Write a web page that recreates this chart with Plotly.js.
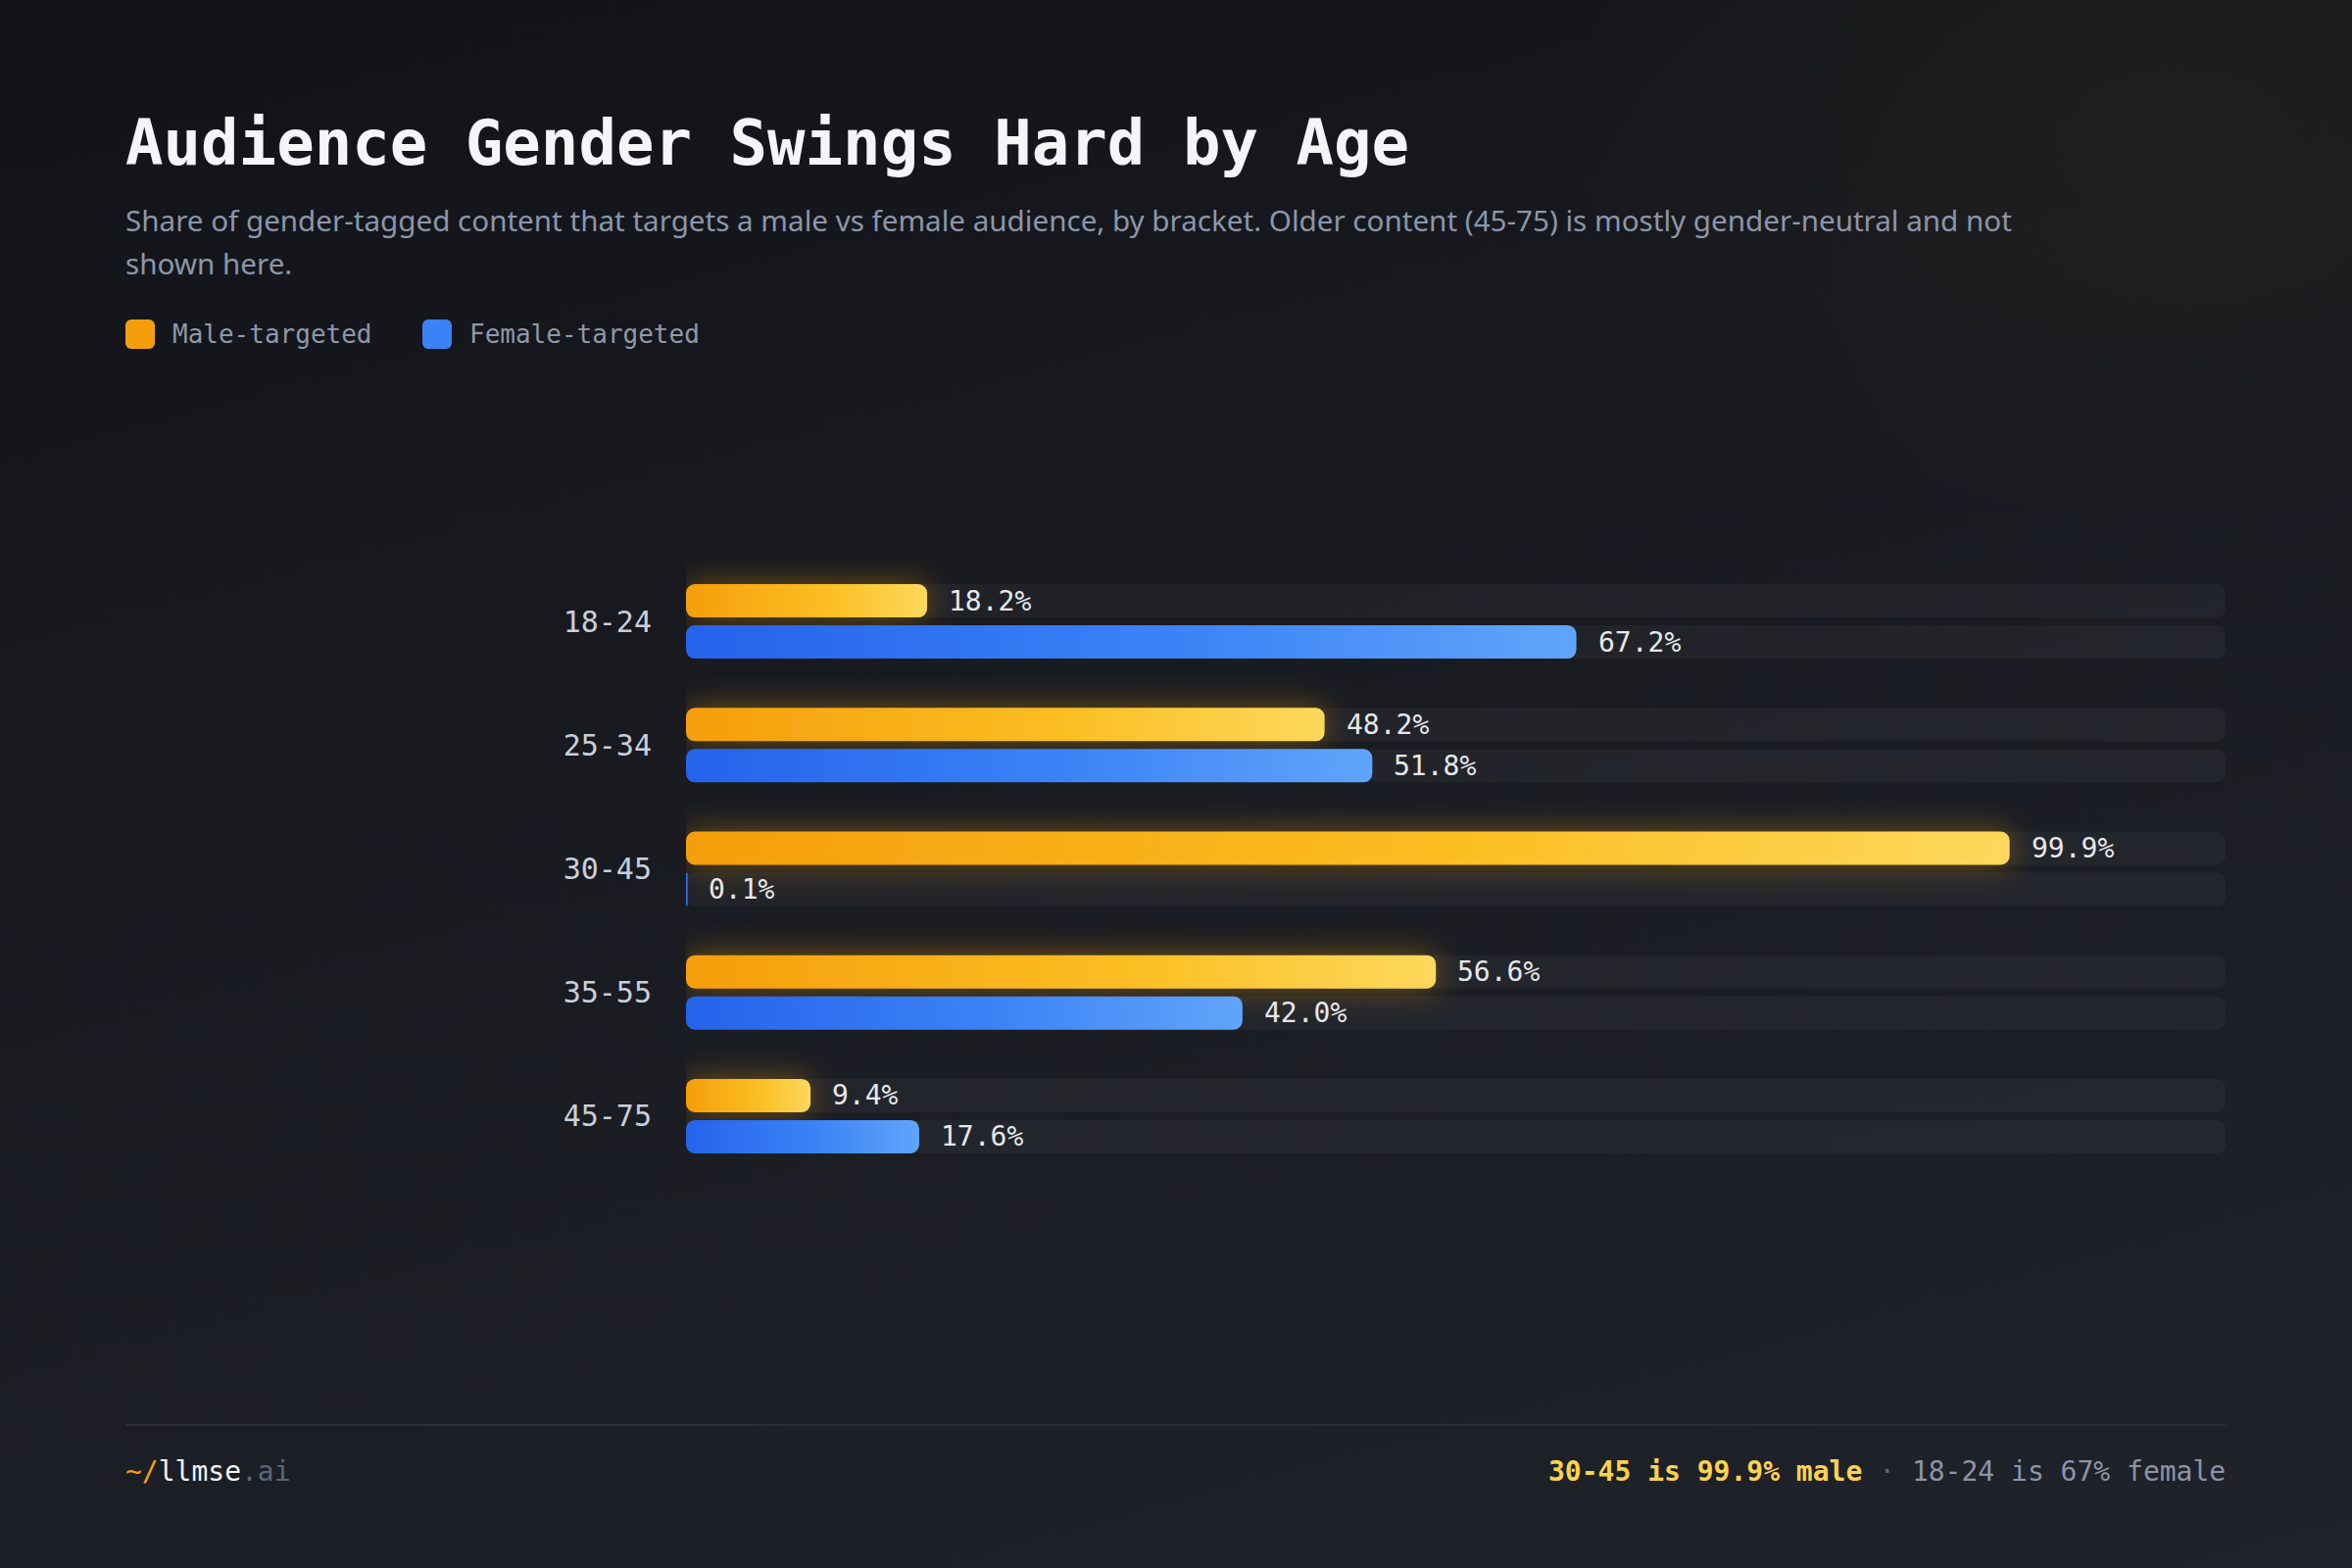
<!DOCTYPE html>
<html>
<head>
<meta charset="utf-8">
<script src="https://cdn.plot.ly/plotly-3.0.1.min.js"></script>
<style>
  html, body { margin: 0; padding: 0; width: 2400px; height: 1600px; overflow: hidden; }
  body {
    background:
      radial-gradient(ellipse 900px 600px at 92% 8%, rgba(245,158,11,0.045), rgba(245,158,11,0) 70%),
      linear-gradient(165deg, #111318 0%, #181a20 40%, #20232a 100%);
  }
  #chart { width: 2400px; height: 1600px; }
</style>
</head>
<body>
<div id="chart"></div>
<script>
// ---- data ----
const categories = ['18-24', '25-34', '30-45', '35-55', '45-75'];
const maleValues = [18.2, 48.2, 99.9, 56.6, 9.4];
const femaleValues = [67.2, 51.8, 0.1, 42.0, 17.6];
const seriesNames = ['Male-targeted', 'Female-targeted'];
const xMax = 116.2; // track length / axis max

// ---- style ----
const MONO = '"DejaVu Sans Mono", "Liberation Mono", monospace';
const SANS = '"Noto Sans", "Open Sans", sans-serif';
const AMBER = '#f59e0b';
const BLUE = '#3b82f6';
const TRACK = 'rgba(255,255,255,0.04)';
const barW = 0.2694;
const maleOffset = -0.3011;
const femaleOffset = 0.0317;

const trackVals = categories.map(() => xMax);

const data = [
  { type: 'bar', orientation: 'h', y: categories, x: trackVals, width: barW, offset: maleOffset,
    marker: { color: TRACK }, hoverinfo: 'skip', showlegend: false },
  { type: 'bar', orientation: 'h', y: categories, x: trackVals, width: barW, offset: femaleOffset,
    marker: { color: TRACK }, hoverinfo: 'skip', showlegend: false },
  { type: 'bar', orientation: 'h', name: seriesNames[0], y: categories, x: maleValues, width: barW, offset: maleOffset,
    marker: { color: AMBER }, showlegend: false },
  { type: 'bar', orientation: 'h', name: seriesNames[1], y: categories, x: femaleValues, width: barW, offset: femaleOffset,
    marker: { color: BLUE }, showlegend: false }
];

const W = 2400, H = 1600;
const px = v => v / W;
const py = v => 1 - v / H;

const annotations = [];
// value labels
categories.forEach((c, i) => {
  annotations.push({ xref: 'x', yref: 'y', x: maleValues[i], y: c, yshift: 21, xshift: 20,
    xanchor: 'left', yanchor: 'middle', showarrow: false, text: maleValues[i].toFixed(1) + '%',
    font: { family: MONO, size: 28, color: '#e6e8ec' } });
  annotations.push({ xref: 'x', yref: 'y', x: femaleValues[i], y: c, yshift: -21, xshift: 20,
    xanchor: 'left', yanchor: 'middle', showarrow: false, text: femaleValues[i].toFixed(1) + '%',
    font: { family: MONO, size: 28, color: '#e6e8ec' } });
});
// title & subtitle
annotations.push({ xref: 'paper', yref: 'paper', x: px(126), y: py(146), xanchor: 'left', yanchor: 'middle',
  showarrow: false, text: 'Audience Gender Swings Hard by Age',
  font: { family: MONO, size: 64, color: '#f4f5f7', weight: 700 } });
annotations.push({ xref: 'paper', yref: 'paper', x: px(126), y: py(224), xanchor: 'left', yanchor: 'middle',
  showarrow: false, text: 'Share of gender-tagged content that targets a male vs female audience, by bracket. Older content (45-75) is mostly gender-neutral and not',
  font: { family: SANS, size: 29.6, color: '#8b96aa' } });
annotations.push({ xref: 'paper', yref: 'paper', x: px(126), y: py(268), xanchor: 'left', yanchor: 'middle',
  showarrow: false, text: 'shown here.',
  font: { family: SANS, size: 29.6, color: '#8b96aa' } });
// legend
annotations.push({ xref: 'paper', yref: 'paper', x: px(174), y: py(341), xanchor: 'left', yanchor: 'middle',
  showarrow: false, text: seriesNames[0], font: { family: MONO, size: 26, color: '#8e98aa' } });
annotations.push({ xref: 'paper', yref: 'paper', x: px(477), y: py(341), xanchor: 'left', yanchor: 'middle',
  showarrow: false, text: seriesNames[1], font: { family: MONO, size: 26, color: '#8e98aa' } });
// footer
annotations.push({ xref: 'paper', yref: 'paper', x: px(126), y: py(1501), xanchor: 'left', yanchor: 'middle',
  showarrow: false,
  text: '<span style="color:#f59e0b">~/</span><span style="color:#f3f4f6">llmse</span><span style="color:#5b667a">.ai</span>',
  font: { family: MONO, size: 28, color: '#f3f4f6' } });
annotations.push({ xref: 'paper', yref: 'paper', x: px(2273), y: py(1501), xanchor: 'right', yanchor: 'middle',
  showarrow: false,
  text: '<b><span style="color:#fcd34d">30-45 is 99.9% male</span></b><span style="color:#5b667a"> · </span><span style="color:#8b95a8">18-24 is 67% female</span>',
  font: { family: MONO, size: 28, color: '#8b95a8' } });

function rrPath(x, y, w, h, r) {
  r = Math.max(0, Math.min(r, w / 2, h / 2));
  return `M${x + r},${y}H${x + w - r}A${r},${r} 0 0 1 ${x + w},${y + r}V${y + h - r}A${r},${r} 0 0 1 ${x + w - r},${y + h}H${x + r}A${r},${r} 0 0 1 ${x},${y + h - r}V${y + r}A${r},${r} 0 0 1 ${x + r},${y}Z`;
}

function paperRect(x0, y0, x1, y1, color) {
  return { type: 'rect', xref: 'paper', yref: 'paper', x0: x0 / W, x1: x1 / W, y0: 1 - y1 / H, y1: 1 - y0 / H,
    fillcolor: color, line: { width: 0 } };
}
const shapes = [
  paperRect(128, 326, 158, 356, AMBER),
  paperRect(431, 326, 461, 356, BLUE),
  { type: 'line', xref: 'paper', yref: 'paper', x0: px(128), x1: px(2271), y0: py(1454), y1: py(1454),
    line: { color: '#2a2e37', width: 2 } }
];

const layout = {
  width: W, height: H,
  margin: { l: 0, r: 0, t: 0, b: 0 },
  paper_bgcolor: 'rgba(0,0,0,0)',
  plot_bgcolor: 'rgba(0,0,0,0)',
  barmode: 'overlay',
  showlegend: false,
  xaxis: { domain: [700 / W, 2271 / W], range: [0, xMax], visible: false, fixedrange: true },
  yaxis: { domain: [1 - 1202 / H, 1 - 571 / H], range: [4.5, -0.5], type: 'category',
    showgrid: false, zeroline: false, showline: false, ticks: '', ticklabelstandoff: 34,
    tickfont: { family: MONO, size: 30, color: '#c9cfda' }, automargin: false, fixedrange: true },
  annotations: annotations,
  shapes: shapes,
  font: { family: MONO }
};

Plotly.newPlot('chart', data, layout, { staticPlot: true, displayModeBar: false }).then(gd => {
  const NS = 'http://www.w3.org/2000/svg';
  const svg = gd.querySelector('.main-svg');
  const defs = document.createElementNS(NS, 'defs');
  defs.innerHTML =
    '<linearGradient id="gMale" x1="0" x2="1" y1="0" y2="0">' +
      '<stop offset="0" stop-color="#f59e0b"/><stop offset="0.6" stop-color="#fbbf24"/><stop offset="1" stop-color="#fdd85c"/>' +
    '</linearGradient>' +
    '<linearGradient id="gFemale" x1="0" x2="1" y1="0" y2="0">' +
      '<stop offset="0" stop-color="#2563eb"/><stop offset="0.55" stop-color="#3b82f6"/><stop offset="1" stop-color="#60a5fa"/>' +
    '</linearGradient>' +
    '<filter id="glow" filterUnits="userSpaceOnUse" x="0" y="0" width="2400" height="1600">' +
      '<feGaussianBlur in="SourceAlpha" stdDeviation="16" result="b"/>' +
      '<feFlood flood-color="#f59e0b" flood-opacity="0.42"/>' +
      '<feComposite in2="b" operator="in" result="g"/>' +
      '<feMerge><feMergeNode in="g"/><feMergeNode in="SourceGraphic"/></feMerge>' +
    '</filter>';
  svg.insertBefore(defs, svg.firstChild);

  const traces = gd.querySelectorAll('.barlayer .trace');
  traces.forEach((tg, ti) => {
    tg.querySelectorAll('.point path').forEach(p => {
      const b = p.getBBox();
      p.setAttribute('d', rrPath(b.x, b.y, b.width, b.height, 9));
      if (ti === 2) p.style.setProperty('fill', 'url(#gMale)');
      if (ti === 3) p.style.setProperty('fill', 'url(#gFemale)');
    });
    if (ti === 2) tg.setAttribute('filter', 'url(#glow)');
  });
  // round legend squares
  gd.querySelectorAll('.shapelayer path').forEach(p => {
    const b = p.getBBox();
    if (Math.abs(b.width - 30) < 2 && Math.abs(b.height - 30) < 2) {
      p.setAttribute('d', rrPath(b.x, b.y, b.width, b.height, 6));
    }
  });
});
</script>
</body>
</html>
